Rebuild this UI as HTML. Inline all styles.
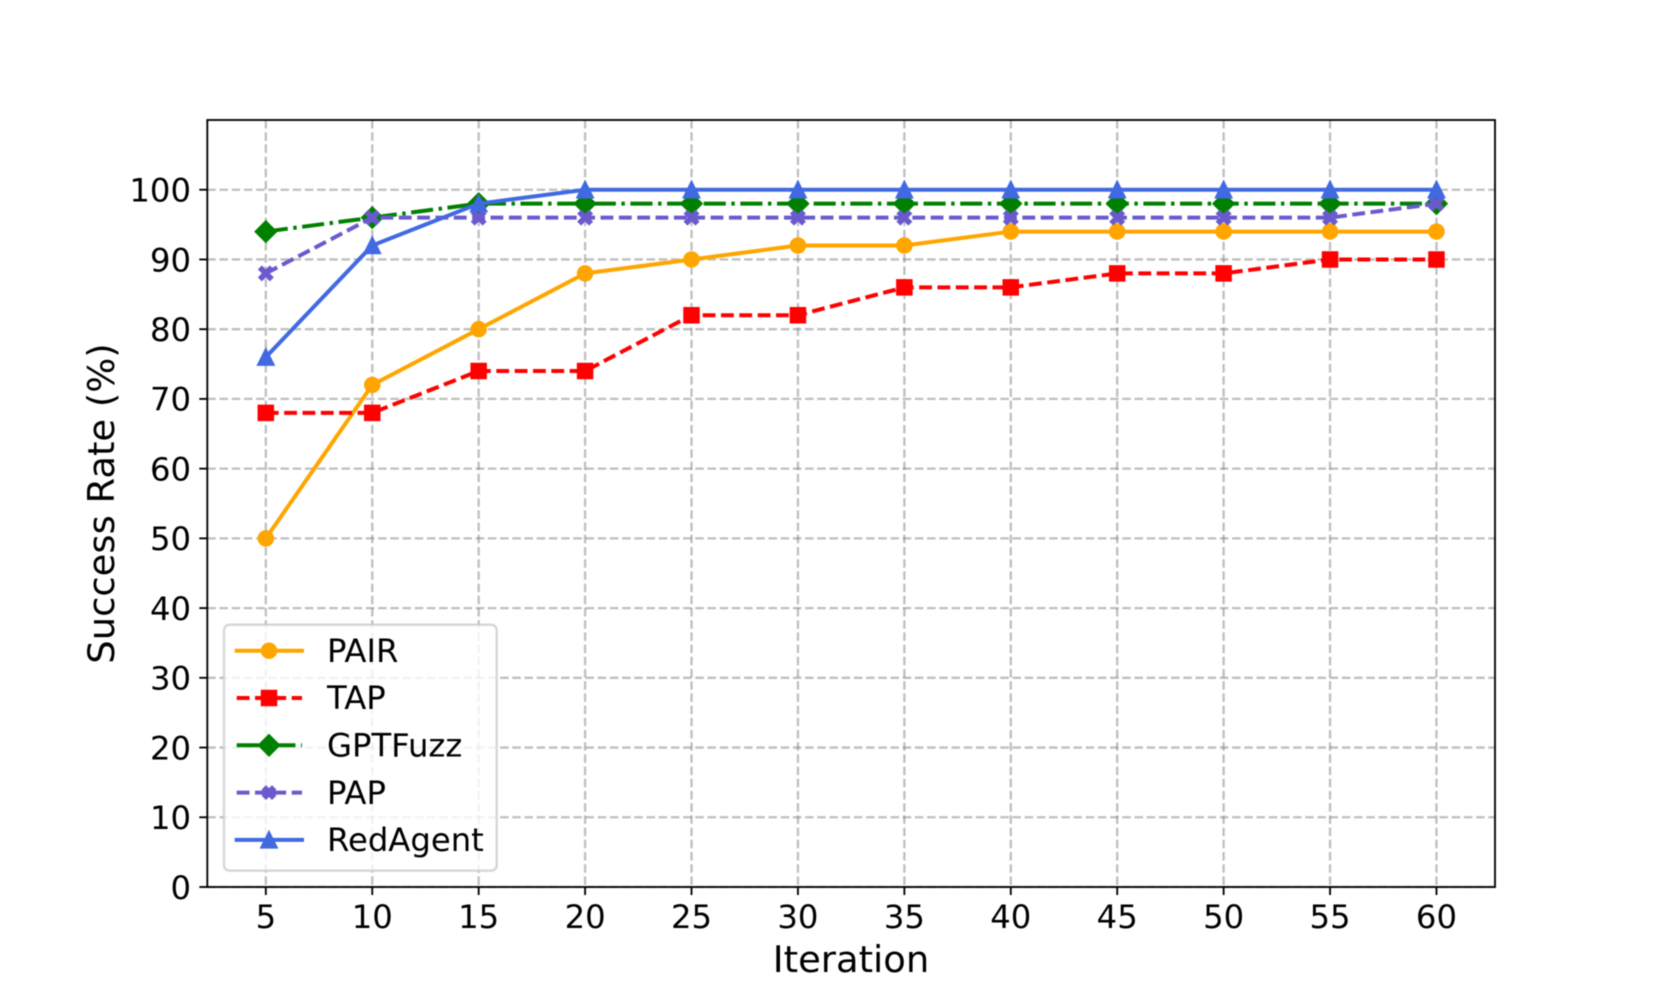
<!DOCTYPE html>
<html>
<head>
<meta charset="utf-8">
<title>Success Rate vs Iteration</title>
<style>
html,body{margin:0;padding:0;background:#fff;}
svg{display:block;font-family:"DejaVu Sans","Liberation Sans",sans-serif;filter:blur(0.4px);}
</style>
</head>
<body>
<svg id="chart" xmlns="http://www.w3.org/2000/svg" width="1661" height="997" viewBox="0 0 1661 997">
<rect x="0" y="0" width="1661" height="997" fill="#ffffff"/>
</svg>
<script>
const iterations = [5,10,15,20,25,30,35,40,45,50,55,60];
const pairValues = [50,72,80,88,90,92,92,94,94,94,94,94];
const tapValues = [68,68,74,74,82,82,86,86,88,88,90,90];
const gptFuzzValues = [94,96,98,98,98,98,98,98,98,98,98,98];
const papValues = [88,96,96,96,96,96,96,96,96,96,96,98];
const redAgentValues = [76,92,98,100,100,100,100,100,100,100,100,100];
const yTicks = [0,10,20,30,40,50,60,70,80,90,100];
const seriesNames = ['PAIR','TAP','GPTFuzz','PAP','RedAgent'];

const NS = 'http://www.w3.org/2000/svg';
const svg = document.getElementById('chart');
const plot = {left:207.3, right:1495, top:120, bottom:887};
const xMin = 2.25, xMax = 62.75, yMin = 0, yMax = 110;
const LW = 4.0, MS = 14.2, MEW = 2.3;

function xScale(v){ return plot.left + (v - xMin) / (xMax - xMin) * (plot.right - plot.left); }
function yScale(v){ return plot.bottom - (v - yMin) / (yMax - yMin) * (plot.bottom - plot.top); }

function make(tag, attrs, parent){
  const el = document.createElementNS(NS, tag);
  for (const k in attrs) el.setAttribute(k, attrs[k]);
  (parent || svg).appendChild(el);
  return el;
}

const styles = [
  {color:'#FFA500', dash:'none', cap:'square', marker:'circle'},
  {color:'#FF0000', dash:'12.8 5.54', cap:'butt', marker:'square'},
  {color:'#008000', dash:'22.1 5.54 3.46 5.54', cap:'butt', marker:'diamond'},
  {color:'#6A5ACD', dash:'12.8 5.54', cap:'butt', marker:'x'},
  {color:'#4169E1', dash:'none', cap:'square', marker:'triangle'}
];
const seriesValues = [pairValues, tapValues, gptFuzzValues, papValues, redAgentValues];

function drawMarker(kind, cx, cy, color, parent, xSize, xStroke){
  const h = MS / 2;
  const common = {fill:color, stroke:color, 'stroke-width':MEW, 'stroke-linejoin':'miter', 'stroke-miterlimit':10};
  let pts;
  if (kind === 'circle') {
    return make('circle', Object.assign({cx:cx, cy:cy, r:h}, common), parent);
  }
  if (kind === 'square') {
    pts = [[-h,-h],[h,-h],[h,h],[-h,h]];
  } else if (kind === 'diamond') {
    const d = MS * Math.SQRT1_2;
    pts = [[0,-d],[d,0],[0,d],[-d,0]];
  } else if (kind === 'triangle') {
    const t = 7.6;
    pts = [[0,-t],[t,t],[-t,t]];
  } else {
    const q = xSize / 4;
    common['stroke-width'] = xStroke;
    pts = [[-q,-2*q],[0,-q],[q,-2*q],[2*q,-q],[q,0],[2*q,q],[q,2*q],[0,q],[-q,2*q],[-2*q,q],[-q,0],[-2*q,-q]];
  }
  return make('polygon', Object.assign({points:pts.map(p => (cx+p[0])+','+(cy+p[1])).join(' ')}, common), parent);
}

/* grid */
const gridGroup = make('g', {});


iterations.forEach(v => {
  const l = make('line', {x1:xScale(v), x2:xScale(v), y1:plot.top, y2:plot.bottom, stroke:'#808080', 'stroke-opacity':0.5, 'stroke-width':2.3, 'stroke-dasharray':'8.5 3.7'}, gridGroup);
  
  
});
yTicks.forEach(v => {
  const l = make('line', {x1:plot.left, x2:plot.right, y1:yScale(v), y2:yScale(v), stroke:'#808080', 'stroke-opacity':0.5, 'stroke-width':2.3, 'stroke-dasharray':'8.5 3.7'}, gridGroup);
  
  
});

/* series */
seriesValues.forEach((vals, i) => {
  const st = styles[i];
  const g = make('g', {});
  
  
  const line = make('polyline', {
    points: vals.map((v, j) => xScale(iterations[j]) + ',' + yScale(v)).join(' '),
    fill:'none', stroke:st.color, 'stroke-width':LW, 'stroke-linejoin':'round', 'stroke-linecap':'butt',
    'stroke-dasharray':st.dash
  }, g);
  
  
  vals.forEach((v, j) => {
    const m = drawMarker(st.marker, xScale(iterations[j]), yScale(v), st.color, g, 16, 0);
    
    
  });
});

/* spines */
const frame = make('rect', {x:plot.left, y:plot.top, width:plot.right-plot.left, height:plot.bottom-plot.top, fill:'none', stroke:'#000', 'stroke-width':1.85});



/* x ticks */
iterations.forEach(v => {
  const t = make('line', {x1:xScale(v), x2:xScale(v), y1:plot.bottom, y2:plot.bottom+8, stroke:'#000', 'stroke-width':1.85});
  
  
  const lab = make('text', {x:xScale(v), y:928, 'text-anchor':'middle', 'font-size':32.28, fill:'#000'});
  lab.textContent = String(v);
  
  
});

/* y ticks */
yTicks.forEach(v => {
  const t = make('line', {x1:plot.left-8, x2:plot.left, y1:yScale(v), y2:yScale(v), stroke:'#000', 'stroke-width':1.85});
  
  
  const lab = make('text', {x:191, y:yScale(v)+11.8, 'text-anchor':'end', 'font-size':32.28, fill:'#000'});
  lab.textContent = String(v);
  
  
});

/* axis titles */
const xTitle = make('text', {x:851, y:972, 'text-anchor':'middle', 'font-size':36.9, fill:'#000'});
xTitle.textContent = 'Iteration';


const yTitle = make('text', {x:0, y:0, transform:'translate(114,503.5) rotate(-90)', 'text-anchor':'middle', 'font-size':36.9, fill:'#000'});
yTitle.textContent = 'Success Rate (%)';



/* legend */
const legend = make('g', {});


const legendBox = make('rect', {x:224, y:624.7, width:272.7, height:246, rx:5.5, ry:5.5, fill:'#ffffff', 'fill-opacity':0.8, stroke:'#cccccc', 'stroke-opacity':0.8, 'stroke-width':2.3}, legend);


seriesNames.forEach((name, i) => {
  const st = styles[i];
  const rowY = 650.7 + i * 47.3;
  const entry = make('g', {}, legend);
  
  
  make('line', {x1:236.7, x2:302, y1:rowY, y2:rowY, stroke:st.color, 'stroke-width':LW, 'stroke-dasharray':st.dash, 'stroke-linecap':st.cap}, entry);
  drawMarker(st.marker, 269, rowY, st.color, entry, 12, 2);
  const txt = make('text', {x:327, y:rowY+11.2, 'font-size':32.28, fill:'#000'}, entry);
  txt.textContent = name;
});
</script>
</body>
</html>
